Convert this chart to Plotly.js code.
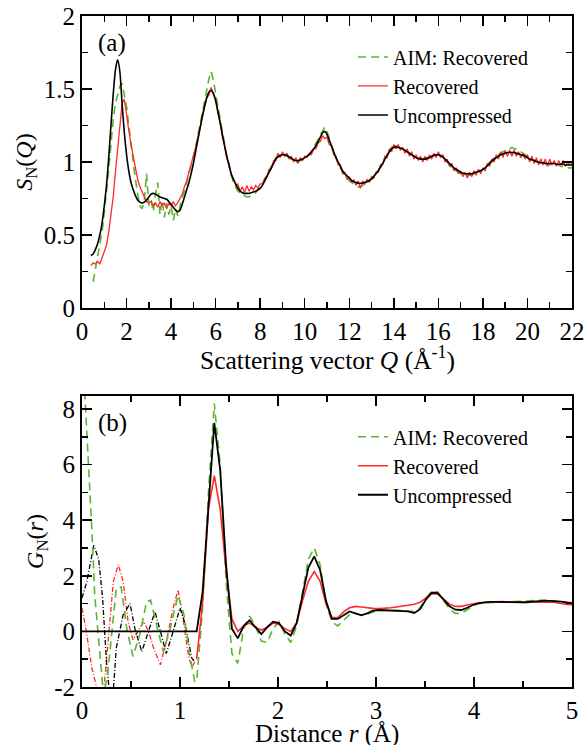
<!DOCTYPE html>
<html><head><meta charset="utf-8">
<script src="https://cdn.plot.ly/plotly-3.0.1.min.js"></script>
<style>
body{margin:0;background:#fff}
#chart{width:585px;height:745px}
</style>
</head><body><div id="chart"></div>
<script>
// ---------- Panel (a): S_N(Q), sampled every 0.1 Å^-1 ----------
const qStartUncomp = 0.4, qStartRec = 0.4, qStartAIM = 0.5, qStep = 0.1;
const sqUncompressed = [
 0.36,0.37,0.40,0.44,0.50,0.58,
 0.70,0.84,1.03,1.25,1.46,1.63,1.70,1.62,1.40,1.20,
 1.05,0.94,0.86,0.81,0.77,0.74,0.725,0.72,0.725,0.74,
 0.76,0.78,0.785,0.78,0.77,0.76,0.755,0.75,0.745,0.73,
 0.71,0.69,0.67,0.66,0.67,0.71,0.76,0.81,0.86,0.92,
 0.99,1.07,1.15,1.23,1.31,1.38,1.44,1.48,1.49,1.47,
 1.42,1.35,1.27,1.19,1.11,1.04,0.98,0.92,0.88,0.85,
 0.82,0.80,0.79,0.785,0.785,0.785,0.79,0.795,0.80,0.81,
 0.82,0.84,0.87,0.90,0.93,0.96,0.99,1.02,1.035,1.045,
 1.05,1.05,1.045,1.035,1.025,1.015,1.01,1.01,1.015,1.02,
 1.03,1.04,1.05,1.07,1.09,1.11,1.14,1.17,1.20,1.21,
 1.19,1.15,1.11,1.07,1.03,1.00,0.97,0.94,0.92,0.905,
 0.89,0.875,0.865,0.86,0.855,0.855,0.855,0.86,0.865,0.875,
 0.885,0.90,0.92,0.94,0.965,0.99,1.02,1.045,1.07,1.09,
 1.10,1.105,1.10,1.095,1.09,1.08,1.07,1.06,1.05,1.04,
 1.03,1.025,1.02,1.02,1.02,1.025,1.03,1.04,1.045,1.05,
 1.05,1.045,1.035,1.02,1.005,0.99,0.975,0.96,0.95,0.94,
 0.93,0.925,0.92,0.92,0.92,0.92,0.925,0.93,0.935,0.94,
 0.95,0.96,0.975,0.99,1.005,1.02,1.03,1.04,1.05,1.055,
 1.06,1.065,1.065,1.065,1.065,1.06,1.055,1.05,1.045,1.04,
 1.03,1.02,1.015,1.01,1.005,1.0,0.995,0.995,0.99,0.99,
 0.99,0.99,0.99,0.985,0.985,0.985,0.985,0.98,0.98,0.98,0.98
];
const sqRecovered = [
 0.29,0.31,0.30,0.32,0.30,0.34,
 0.38,0.43,0.52,0.63,0.76,0.93,1.08,1.27,1.40,1.43,
 1.34,1.22,1.12,1.03,0.95,0.88,0.83,0.79,0.76,0.73,
 0.72,0.73,0.70,0.72,0.69,0.73,0.70,0.72,0.68,0.72,
 0.70,0.73,0.70,0.72,0.75,0.78,0.83,0.87,0.93,0.98,
 1.04,1.10,1.17,1.24,1.32,1.37,1.44,1.46,1.51,1.46,
 1.43,1.33,1.28,1.17,1.12,1.02,0.99,0.91,0.89,0.84,
 0.85,0.80,0.83,0.79,0.84,0.80,0.83,0.81,0.84,0.82,
 0.85,0.85,0.89,0.90,0.95,0.95,1.01,1.01,1.06,1.03,
 1.07,1.04,1.06,1.02,1.04,1.00,1.03,0.99,1.03,1.01,
 1.04,1.03,1.06,1.05,1.09,1.09,1.13,1.14,1.18,1.16,
 1.17,1.12,1.11,1.05,1.04,0.98,0.98,0.92,0.93,0.88,
 0.90,0.86,0.88,0.84,0.87,0.82,0.87,0.85,0.88,0.86,
 0.90,0.89,0.93,0.93,0.98,0.98,1.04,1.03,1.09,1.07,
 1.12,1.09,1.12,1.08,1.10,1.06,1.09,1.04,1.07,1.02,
 1.05,1.01,1.04,1.00,1.04,1.01,1.05,1.02,1.06,1.03,
 1.07,1.03,1.05,1.00,1.02,0.97,0.99,0.94,0.96,0.92,
 0.94,0.90,0.93,0.89,0.93,0.90,0.94,0.91,0.95,0.92,
 0.96,0.94,0.99,0.97,1.02,1.00,1.05,1.02,1.07,1.03,
 1.08,1.04,1.08,1.04,1.08,1.04,1.07,1.03,1.06,1.02,
 1.05,1.00,1.04,0.99,1.03,0.98,1.02,0.98,1.02,0.97,
 1.02,0.98,1.01,0.97,1.01,0.98,1.01,0.97,1.00,0.98,0.99
];
const sqAIM = [
 0.18,0.26,0.34,0.42,0.52,
 0.65,0.79,0.95,1.12,1.29,1.40,1.47,1.52,1.54,1.47,
 1.38,1.25,1.12,1.00,0.88,0.78,0.70,0.68,0.74,0.92,
 0.70,0.74,0.66,0.78,0.86,0.64,0.74,0.62,0.72,0.64,
 0.70,0.60,0.68,0.63,0.70,0.76,0.80,0.86,0.91,0.97,
 1.04,1.10,1.18,1.26,1.34,1.42,1.50,1.57,1.62,1.56,
 1.47,1.38,1.29,1.20,1.12,1.04,0.97,0.91,0.86,0.83,
 0.80,0.79,0.77,0.77,0.76,0.76,0.77,0.78,0.79,0.81,
 0.82,0.85,0.87,0.91,0.94,0.97,1.00,1.03,1.04,1.05,
 1.05,1.05,1.04,1.03,1.02,1.01,1.00,1.00,1.01,1.02,
 1.03,1.04,1.05,1.07,1.10,1.12,1.15,1.19,1.22,1.24,
 1.21,1.16,1.11,1.07,1.03,0.99,0.96,0.93,0.91,0.89,
 0.87,0.86,0.85,0.84,0.83,0.83,0.84,0.85,0.86,0.87,
 0.88,0.90,0.92,0.94,0.97,1.00,1.03,1.05,1.08,1.10,
 1.11,1.11,1.11,1.10,1.09,1.08,1.07,1.06,1.05,1.04,
 1.03,1.02,1.02,1.02,1.02,1.03,1.03,1.04,1.05,1.05,
 1.05,1.04,1.03,1.01,1.00,0.98,0.96,0.95,0.94,0.93,
 0.92,0.91,0.91,0.91,0.91,0.91,0.92,0.92,0.93,0.94,
 0.95,0.96,0.98,1.00,1.01,1.03,1.04,1.05,1.06,1.07,
 1.08,1.09,1.09,1.10,1.09,1.09,1.08,1.07,1.06,1.05,
 1.04,1.03,1.02,1.01,1.00,1.00,0.99,0.99,0.99,0.98,
 0.98,0.98,0.98,0.98,0.98,0.97,0.97,0.97,0.96,0.96,0.96
];

// ---------- Panel (b): G_N(r) ----------
// low-r (unphysical) region, drawn dash-dot
const rLowUncomp = [0,0.05,0.12,0.17,0.21,0.25,0.28,0.31,0.35,0.42,0.49,0.54,0.61,0.745,0.81,0.86,0.93,1.0,1.05,1.12,1.15];
const gLowUncomp = [1.2,1.8,3.1,2.6,1.2,-1.1,-2.2,-2.6,-0.6,0.6,1.0,0.1,-0.73,0.71,-0.13,-0.8,0.0,0.84,0.3,-0.96,-1.1];
const rLowRec = [0,0.04,0.1,0.16,0.19,0.22,0.27,0.32,0.37,0.42,0.47,0.52,0.63,0.68,0.73,0.8,0.86,0.93,0.98,1.03,1.085,1.12,1.15];
const gLowRec = [0.84,0.1,-1.3,-2.3,-2.6,-2.2,-0.13,1.8,2.4,1.8,0.35,-0.3,0.35,0.0,-0.6,-1.2,-0.37,0.84,1.5,0.5,-0.85,-1.3,-1.1];
// AIM: whole range, dashed
const rAIM = [0,0.03,0.065,0.1,0.13,0.18,0.22,0.26,0.30,0.35,0.40,0.456,0.52,0.59,0.66,0.70,0.77,0.83,0.9,0.98,1.04,1.1,1.15,
 1.17,1.23,1.29,1.35,1.41,1.47,1.53,1.59,1.65,1.71,1.77,1.83,1.89,1.95,2.01,2.07,2.13,2.19,2.25,2.31,2.37,2.43,2.49,
 2.55,2.61,2.67,2.73,2.79,2.85,2.91,2.97,3.03,3.09,3.15,3.21,3.27,3.33,3.39,3.45,3.51,3.57,3.63,3.69,3.75,3.81,3.87,3.93,3.99,
 4.05,4.11,4.17,4.23,4.29,4.35,4.41,4.47,4.53,4.59,4.65,4.71,4.77,4.83,4.89,4.95,5.0];
const gAIM = [10.5,8.6,6.1,3.7,1.3,-0.85,-2.3,-1.6,-0.13,1.56,1.6,0.12,-0.9,-0.1,1.07,1.13,0.1,-0.73,0.1,1.3,0.6,-0.85,-1.8,
 -1.8,0.8,5.0,8.2,6.0,1.8,-0.8,-1.15,0.1,0.55,0.2,-0.35,-0.4,0.1,0.35,-0.1,-0.4,0.2,1.4,2.6,3.0,2.4,1.0,
 0.35,0.2,0.4,0.6,0.65,0.6,0.62,0.7,0.75,0.76,0.76,0.76,0.75,0.72,0.72,0.85,1.2,1.45,1.42,1.1,0.8,0.65,0.65,0.78,0.92,
 1.0,1.03,1.04,1.04,1.05,1.06,1.07,1.08,1.1,1.12,1.13,1.13,1.12,1.1,1.06,1.02,1.0];
// physical region, solid
const rMainUncomp = [0,1.17,1.23,1.29,1.35,1.41,1.47,1.53,1.59,1.65,1.71,1.77,1.83,1.89,1.95,2.01,2.07,2.13,2.19,2.25,2.31,2.37,2.43,2.49,
 2.55,2.61,2.67,2.73,2.79,2.85,2.91,2.97,3.03,3.09,3.15,3.21,3.27,3.33,3.39,3.45,3.51,3.57,3.63,3.69,3.75,3.81,3.87,3.93,3.99,
 4.05,4.11,4.17,4.23,4.29,4.35,4.41,4.47,4.53,4.59,4.65,4.71,4.77,4.83,4.89,4.95,5.0];
const gMainUncomp = [0,0,1.4,4.6,7.5,5.8,2.4,0.1,-0.25,0.2,0.4,0.15,-0.1,0.15,0.35,0.3,0.0,-0.15,0.3,1.3,2.3,2.7,2.2,1.1,
 0.45,0.45,0.6,0.72,0.65,0.58,0.65,0.75,0.77,0.76,0.74,0.73,0.74,0.72,0.66,0.8,1.15,1.4,1.38,1.15,0.9,0.78,0.77,0.85,0.95,
 1.02,1.05,1.06,1.06,1.06,1.05,1.04,1.04,1.05,1.07,1.09,1.1,1.1,1.09,1.07,1.04,1.02];
const rMainRec = [1.17,1.23,1.29,1.35,1.41,1.47,1.53,1.59,1.65,1.71,1.77,1.83,1.89,1.95,2.01,2.07,2.13,2.19,2.25,2.31,2.37,2.43,2.49,
 2.55,2.61,2.67,2.73,2.79,2.85,2.91,2.97,3.03,3.09,3.15,3.21,3.27,3.33,3.39,3.45,3.51,3.57,3.63,3.69,3.75,3.81,3.87,3.93,3.99,
 4.05,4.11,4.17,4.23,4.29,4.35,4.41,4.47,4.53,4.59,4.65,4.71,4.77,4.83,4.89,4.95,5.0];
const gMainRec = [-1.0,1.0,4.4,5.6,4.4,2.2,0.45,0.0,0.2,0.3,0.15,0.05,0.15,0.3,0.25,0.1,0.0,0.3,1.1,1.8,2.15,1.8,1.0,
 0.5,0.5,0.7,0.85,0.9,0.88,0.85,0.83,0.82,0.83,0.85,0.88,0.92,0.95,0.98,1.05,1.2,1.35,1.35,1.15,0.98,0.9,0.9,0.95,1.0,
 1.03,1.05,1.06,1.07,1.07,1.06,1.05,1.04,1.04,1.05,1.06,1.07,1.06,1.04,1.0,0.97,0.96];

// ---------- ticks / labels ----------
const xTicksA = [0,2,4,6,8,10,12,14,16,18,20,22];
const yTicksA = [0,0.5,1,1.5,2];
const yTickTextA = ['0','0.5','1','1.5','2'];
const xTicksB = [0,1,2,3,4,5];
const yTicksB = [-2,0,2,4,6,8];
const yTickTextB = ['-2','0','2','4','6','8'];
const seriesNames = ['AIM: Recovered','Recovered','Uncompressed'];
const xTitleA = 'Scattering vector <i>Q</i> (Å<sup>-1</sup>)';
const xTitleB = 'Distance <i>r</i> (Å)';

const GREEN = '#5cb531', RED = '#ff2a2a', BLACK = '#000000';
const grid = (start, n) => Array.from({length:n}, (_, i) => +(start + qStep*i).toFixed(2));

const traces = [
  {x: grid(qStartAIM, sqAIM.length), y: sqAIM, xaxis:'x', yaxis:'y', mode:'lines', name:seriesNames[0],
   line:{color:GREEN, width:1.6, dash:'8px,5px'}, legend:'legend'},
  {x: grid(qStartRec, sqRecovered.length), y: sqRecovered, xaxis:'x', yaxis:'y', mode:'lines', name:seriesNames[1],
   line:{color:RED, width:1.3}, legend:'legend'},
  {x: grid(qStartUncomp, sqUncompressed.length), y: sqUncompressed, xaxis:'x', yaxis:'y', mode:'lines', name:seriesNames[2],
   line:{color:BLACK, width:1.6, shape:'spline', smoothing:0.6}, legend:'legend'},

  {x: rLowRec, y: gLowRec, xaxis:'x2', yaxis:'y2', mode:'lines', showlegend:false,
   line:{color:RED, width:1.3, dash:'5px,2px,1px,2px'}},
  {x: rLowUncomp, y: gLowUncomp, xaxis:'x2', yaxis:'y2', mode:'lines', showlegend:false,
   line:{color:BLACK, width:1.3, dash:'5px,2px,1px,2px'}},
  {x: rAIM, y: gAIM, xaxis:'x2', yaxis:'y2', mode:'lines', name:seriesNames[0],
   line:{color:GREEN, width:1.6, dash:'8px,5px'}, legend:'legend2'},
  {x: rMainRec, y: gMainRec, xaxis:'x2', yaxis:'y2', mode:'lines', name:seriesNames[1],
   line:{color:RED, width:1.6}, legend:'legend2'},
  {x: rMainUncomp, y: gMainUncomp, xaxis:'x2', yaxis:'y2', mode:'lines', name:seriesNames[2],
   line:{color:BLACK, width:1.8}, legend:'legend2'}
];

const FONT = 'Liberation Serif';
const axBase = {
  showline:true, linewidth:2, linecolor:'black', mirror:'ticks',
  ticks:'inside', ticklen:10, tickwidth:1.5, tickcolor:'black',
  showgrid:false, zeroline:false, automargin:false,
  tickfont:{family:FONT, size:25, color:'black'}
};
const minorBase = {ticks:'inside', ticklen:6, tickwidth:1.5, tickcolor:'black', showgrid:false};
const legBase = {
  xref:'paper', yref:'paper', xanchor:'left', yanchor:'top',
  bgcolor:'rgba(0,0,0,0)', borderwidth:0,
  font:{family:FONT, size:20, color:'black'}, itemwidth:30, traceorder:'normal'
};

const layout = {
  width:585, height:745,
  margin:{l:82, r:13, t:16, b:58},
  paper_bgcolor:'white', plot_bgcolor:'white',
  font:{family:FONT, size:22, color:'black'},
  showlegend:true,
  xaxis: Object.assign({}, axBase, {domain:[0,1], anchor:'y', range:[0,22], tickmode:'array', tickvals:xTicksA,
    minor: Object.assign({}, minorBase, {tickmode:'linear', tick0:0, dtick:1})}),
  yaxis: Object.assign({}, axBase, {domain:[0.5648,1], anchor:'x', range:[0,2], tickmode:'array', tickvals:yTicksA, ticktext:yTickTextA,
    minor: Object.assign({}, minorBase, {tickmode:'linear', tick0:0, dtick:0.25}),
    title:{text:'<i>S</i><sub>N</sub>(<i>Q</i>)', font:{family:FONT, size:24}, standoff:4}}),
  xaxis2: Object.assign({}, axBase, {domain:[0,1], anchor:'y2', range:[0,5], tickmode:'array', tickvals:xTicksB,
    minor: Object.assign({}, minorBase, {tickmode:'linear', tick0:0, dtick:0.5})}),
  yaxis2: Object.assign({}, axBase, {domain:[0,0.4337], anchor:'x2', range:[-2,8.47], tickmode:'array', tickvals:yTicksB, ticktext:yTickTextB,
    minor: Object.assign({}, minorBase, {tickmode:'linear', tick0:0, dtick:1}),
    title:{text:'<i>G</i><sub>N</sub>(<i>r</i>)', font:{family:FONT, size:24}, standoff:4}}),
  legend: Object.assign({}, legBase, {x:0.553, y:0.968}),
  legend2: Object.assign({}, legBase, {x:0.553, y:0.402}),
  annotations:[
    {text:xTitleA, xref:'paper', yref:'paper', x:0.5, y:0.4903, xanchor:'center', yanchor:'middle', showarrow:false,
     font:{family:FONT, size:25.5, color:'black'}},
    {text:xTitleB, xref:'paper', yref:'paper', x:0.5, y:-0.070, xanchor:'center', yanchor:'middle', showarrow:false,
     font:{family:FONT, size:25, color:'black'}},
    {text:'(a)', xref:'paper', yref:'paper', x:0.028, y:0.9598, xanchor:'left', yanchor:'middle', showarrow:false,
     font:{family:FONT, size:25, color:'black'}},
    {text:'(b)', xref:'paper', yref:'paper', x:0.028, y:0.393, xanchor:'left', yanchor:'middle', showarrow:false,
     font:{family:FONT, size:25, color:'black'}}
  ]
};

Plotly.newPlot('chart', traces, layout, {displayModeBar:false, staticPlot:true});
</script>
</body></html>
